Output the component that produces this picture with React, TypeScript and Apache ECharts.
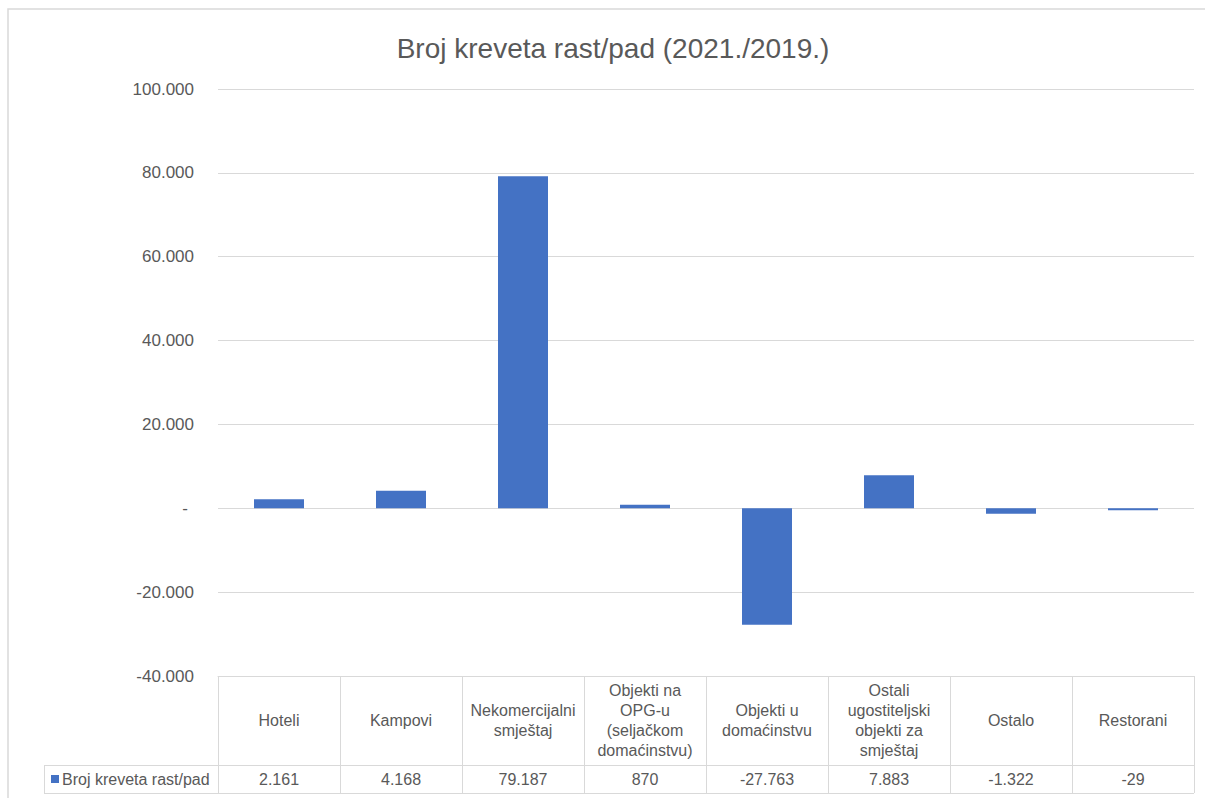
import React, { useEffect, useRef } from "react";
import * as echarts from "echarts";

const categories = [
  "Hoteli",
  "Kampovi",
  "Nekomercijalni smještaj",
  "Objekti na OPG-u (seljačkom domaćinstvu)",
  "Objekti u domaćinstvu",
  "Ostali ugostiteljski objekti za smještaj",
  "Ostalo",
  "Restorani",
];
const categoryTickLabels = [
  "Hoteli",
  "Kampovi",
  "Nekomercijalni\nsmještaj",
  "Objekti na\nOPG-u\n(seljačkom\ndomaćinstvu)",
  "Objekti u\ndomaćinstvu",
  "Ostali\nugostiteljski\nobjekti za\nsmještaj",
  "Ostalo",
  "Restorani",
];
const values = [2161, 4168, 79187, 870, -27763, 7883, -1322, -29];
const seriesName = "Broj kreveta rast/pad";
const titleText = "Broj kreveta rast/pad (2021./2019.)";
const yMin = -40000;
const yMax = 100000;
const yInterval = 20000;

const fmt = (v: number): string => {
  const s = Math.abs(Math.round(v)).toString().replace(/\B(?=(\d{3})+(?!\d))/g, ".");
  return (v < 0 ? "-" : "") + s;
};

const FONT = "'Liberation Sans', Arial, sans-serif";
const TXT = "#595959";
const LINE = "#D9D9D9";

export default function App() {
  const ref = useRef<HTMLDivElement>(null);
  useEffect(() => {
    if (!ref.current) return;
    const chart = echarts.init(ref.current, undefined, { renderer: "svg" });
    chart.setOption({
      animation: false,
      backgroundColor: "#ffffff",
      textStyle: { fontFamily: FONT },
      title: {
        text: titleText,
        left: 608,
        top: 29,
        textAlign: "center",
        textStyle: { fontFamily: FONT, fontSize: 28, fontWeight: "normal", color: TXT },
      },
      legend: {
        data: [seriesName],
        left: 51,
        top: 771,
        padding: 0,
        icon: "rect",
        itemWidth: 8,
        itemHeight: 8,
        itemGap: 4,
        textStyle: { fontFamily: FONT, fontSize: 16, color: TXT, padding: [0, 0, 0, -2] },
      },
      grid: { left: 218, right: 11, top: 89, bottom: 122, containLabel: false },
      xAxis: [
        {
          type: "category",
          data: categories,
          position: "bottom",
          axisLine: { show: true, onZero: false, lineStyle: { color: LINE, width: 1 } },
          axisTick: {
            show: true,
            interval: 0,
            alignWithLabel: false,
            inside: false,
            length: 117,
            lineStyle: { color: LINE, width: 1 },
          },
          axisLabel: {
            interval: 0,
            formatter: (_v: string, i: number) => categoryTickLabels[i],
            margin: 44,
            verticalAlign: "middle",
            lineHeight: 20,
            fontSize: 16,
            fontFamily: FONT,
            color: TXT,
          },
          splitLine: { show: false },
        },
        {
          type: "category",
          data: values.map(fmt),
          position: "bottom",
          offset: 89,
          axisLine: { show: true, onZero: false, lineStyle: { color: LINE, width: 1 } },
          axisTick: { show: false },
          axisLabel: {
            interval: 0,
            margin: 14,
            verticalAlign: "middle",
            fontSize: 16,
            fontFamily: FONT,
            color: TXT,
          },
          splitLine: { show: false },
        },
      ],
      yAxis: {
        type: "value",
        min: yMin,
        max: yMax,
        interval: yInterval,
        axisLine: { show: false },
        axisTick: { show: false },
        splitLine: { show: true, lineStyle: { color: LINE, width: 1 } },
        axisLabel: {
          margin: 24,
          fontSize: 17,
          fontFamily: FONT,
          color: TXT,
          formatter: (v: number) => (v === 0 ? "{z|-}" : fmt(v)),
          rich: { z: { fontSize: 17, fontFamily: FONT, color: TXT, padding: [0, 6, 0, 0] } },
        },
      },
      series: [
        {
          name: seriesName,
          type: "bar",
          xAxisIndex: 0,
          data: values,
          barWidth: 50,
          barMinHeight: 2,
          itemStyle: { color: "#4472C4" },
        },
      ],
      graphic: [
        {
          type: "rect",
          silent: true,
          shape: { x: 8, y: 9, width: 1400, height: 1000 },
          style: { fill: "none", stroke: LINE, lineWidth: 1.5 },
        },
        {
          type: "line",
          silent: true,
          shape: { x1: 44, y1: 765.5, x2: 218, y2: 765.5 },
          style: { stroke: LINE, lineWidth: 1 },
        },
        {
          type: "line",
          silent: true,
          shape: { x1: 44, y1: 793.5, x2: 1194, y2: 793.5 },
          style: { stroke: LINE, lineWidth: 1 },
        },
        {
          type: "line",
          silent: true,
          shape: { x1: 44.5, y1: 765, x2: 44.5, y2: 794 },
          style: { stroke: LINE, lineWidth: 1 },
        },
      ],
    });
    return () => chart.dispose();
  }, []);
  return (
    <div
      ref={ref}
      style={{ position: "fixed", left: 0, top: 0, width: 1205, height: 798, background: "#fff" }}
    />
  );
}
